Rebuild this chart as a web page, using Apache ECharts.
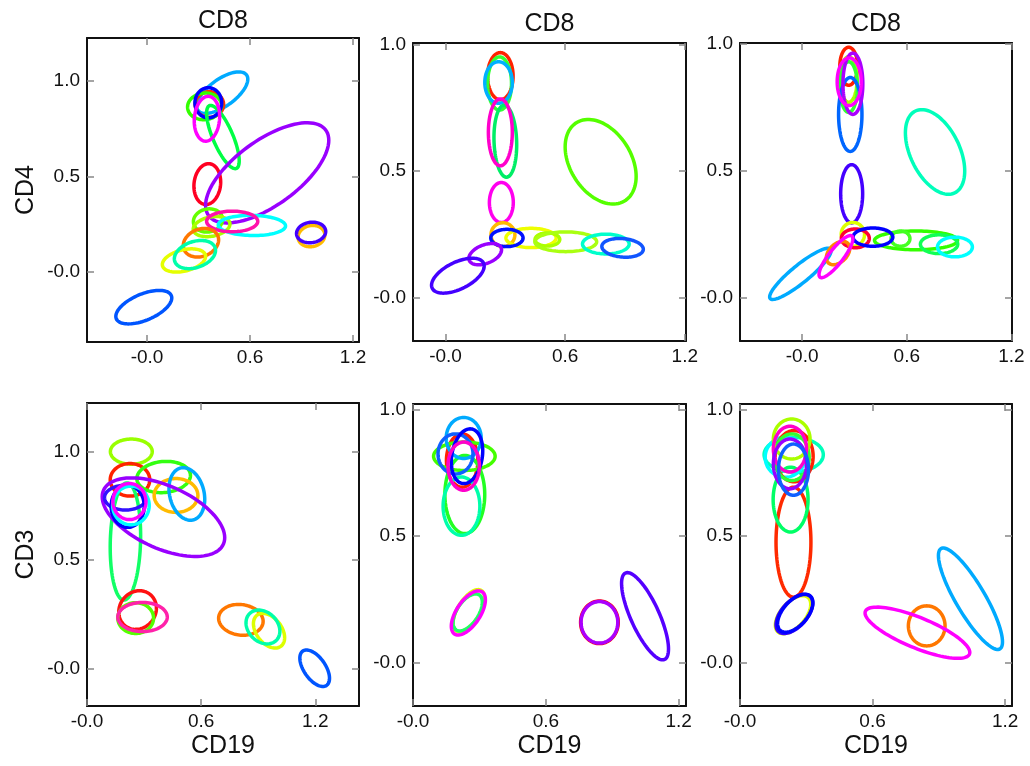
<!DOCTYPE html>
<html><head><meta charset="utf-8">
<script src="https://cdn.jsdelivr.net/npm/echarts@6/dist/echarts.min.js"></script>
<style>html,body{margin:0;padding:0;background:#fff}#c{width:1030px;height:766px}</style>
</head><body><div id="c"></div>
<script>
// ---- tick values / labels ----
const xTickValues = [0, 0.6, 1.2];
const yTickValues = [0, 0.5, 1.0];
const tickLabels = { '0': '-0.0', '0.5': '0.5', '0.6': '0.6', '1': '1.0', '1.2': '1.2' };

// ---- axis extents per panel [xmin, xmax, ymin, ymax] ----
const p1Range = [-0.35, 1.235, -0.37, 1.226];
const p2Range = [-0.163, 1.206, -0.171, 1.006];
const p3Range = [-0.356, 1.203, -0.172, 1.004];
const p4Range = [0, 1.43, -0.172, 1.224];
const p5Range = [0, 1.233, -0.17, 1.021];
const p6Range = [0, 1.231, -0.17, 1.021];

// ---- ellipses: [centerX, centerY, halfWidthX, halfHeightY, correlation] ----
const p1Ellipses = [
  [0.438, 0.939, 0.149, 0.109, 0.65],
  [0.363, 0.877, 0.083, 0.067, 0.0],
  [0.335, 0.867, 0.099, 0.070, 0.05],
  [0.357, 0.886, 0.078, 0.079, 0.0],
  [0.442, 0.706, 0.095, 0.166, -0.75],
  [0.349, 0.802, 0.074, 0.118, 0.1],
  [0.351, 0.459, 0.078, 0.107, 0.1],
  [0.700, 0.518, 0.359, 0.263, 0.65],
  [0.355, 0.268, 0.085, 0.061, 0.1],
  [0.376, 0.236, 0.107, 0.053, 0.25],
  [0.611, 0.242, 0.196, 0.053, -0.05],
  [0.496, 0.263, 0.149, 0.054, 0.0],
  [0.314, 0.151, 0.103, 0.075, 0.2],
  [0.215, 0.058, 0.126, 0.061, 0.35],
  [0.279, 0.089, 0.120, 0.074, 0.3],
  [-0.019, -0.187, 0.163, 0.088, 0.55],
  [0.958, 0.186, 0.078, 0.056, 0.1],
  [0.956, 0.205, 0.085, 0.054, 0.1]
];
const p1Colors = ['#00aaff','#ff3300','#33ff00','#0000ff','#00ff44','#ff00ff','#ff0022','#9900ff',
  '#66ff00','#aaff00','#00ffff','#ff11aa','#ff7700','#e5ff00','#00ffaa','#0055ff','#ffbb00','#4400ff'];

const p2Ellipses = [
  [0.275, 0.875, 0.064, 0.093, 0.0],
  [0.271, 0.846, 0.060, 0.105, 0.0],
  [0.266, 0.850, 0.069, 0.082, 0.0],
  [0.300, 0.618, 0.057, 0.142, -0.1],
  [0.275, 0.653, 0.060, 0.132, 0.0],
  [0.280, 0.376, 0.060, 0.079, 0.0],
  [0.288, 0.249, 0.060, 0.047, 0.0],
  [0.429, 0.236, 0.126, 0.038, 0.0],
  [0.308, 0.236, 0.081, 0.034, 0.0],
  [0.511, 0.230, 0.062, 0.026, 0.0],
  [0.603, 0.221, 0.155, 0.039, 0.0],
  [0.804, 0.212, 0.117, 0.039, 0.0],
  [0.888, 0.197, 0.104, 0.037, -0.15],
  [0.199, 0.172, 0.082, 0.042, 0.4],
  [0.062, 0.087, 0.132, 0.069, 0.55],
  [0.778, 0.537, 0.178, 0.167, -0.35]
];
const p2Colors = ['#ff2200','#33ff33','#00b0ff','#00ee66','#ff00cc','#ff00ee','#ffbb00','#eeff00',
  '#0011ff','#aaff00','#aaff11','#00ffcc','#1155ff','#9900ff','#4400ff','#55ff00'];

const p3Ellipses = [
  [0.267, 0.912, 0.051, 0.075, 0.0],
  [0.267, 0.860, 0.048, 0.090, 0.0],
  [0.267, 0.830, 0.050, 0.100, 0.0],
  [0.276, 0.722, 0.067, 0.146, 0.0],
  [0.291, 0.843, 0.057, 0.121, 0.0],
  [0.270, 0.851, 0.069, 0.094, 0.0],
  [0.284, 0.409, 0.063, 0.115, 0.0],
  [0.762, 0.574, 0.170, 0.167, -0.45],
  [0.291, 0.249, 0.067, 0.047, 0.0],
  [0.305, 0.233, 0.080, 0.037, 0.0],
  [0.653, 0.225, 0.238, 0.037, 0.0],
  [0.564, 0.232, 0.054, 0.030, 0.0],
  [0.406, 0.238, 0.114, 0.036, 0.0],
  [0.785, 0.210, 0.107, 0.037, 0.0],
  [0.876, 0.199, 0.100, 0.039, 0.0],
  [-0.010, 0.093, 0.176, 0.101, 0.9],
  [0.206, 0.175, 0.067, 0.046, 0.4],
  [0.194, 0.161, 0.097, 0.083, 0.85]
];
const p3Colors = ['#ff2200','#aaff00','#33ff33','#0066ff','#aa00ff','#ff00ff','#4400ff','#00ffbb',
  '#ddff00','#ff0033','#33ff00','#44ff22','#0000ff','#11ff55','#00ffff','#00aaff','#ff8800','#ff00ff'];

const p4Ellipses = [
  [0.233, 1.000, 0.110, 0.058, 0.0],
  [0.226, 0.870, 0.104, 0.075, 0.0],
  [0.403, 0.883, 0.141, 0.072, 0.1],
  [0.468, 0.798, 0.115, 0.078, 0.0],
  [0.525, 0.805, 0.094, 0.121, -0.2],
  [0.202, 0.586, 0.080, 0.270, 0.1],
  [0.402, 0.698, 0.322, 0.181, -0.52],
  [0.202, 0.788, 0.110, 0.057, 0.0],
  [0.214, 0.748, 0.087, 0.097, 0.0],
  [0.231, 0.752, 0.096, 0.089, 0.0],
  [0.223, 0.770, 0.087, 0.083, 0.0],
  [0.266, 0.270, 0.099, 0.089, 0.1],
  [0.256, 0.233, 0.094, 0.071, 0.0],
  [0.292, 0.238, 0.130, 0.067, 0.0],
  [0.809, 0.225, 0.117, 0.071, -0.1],
  [0.957, 0.175, 0.082, 0.080, -0.4],
  [0.925, 0.192, 0.089, 0.078, -0.25],
  [1.197, 0.002, 0.078, 0.084, -0.55]
];
const p4Colors = ['#99ff00','#ff2200','#33ff11','#ffbb00','#00aaff','#11ff66','#9900ff','#3311ff',
  '#0000ff','#00ffff','#ff00ff','#ff1111','#55ff00','#ff22aa','#ff7700','#ddff00','#00ffaa','#0055ff'];

const p5Ellipses = [
  [0.222, 0.798, 0.071, 0.105, 0.0],
  [0.232, 0.815, 0.139, 0.056, 0.0],
  [0.234, 0.664, 0.090, 0.154, 0.0],
  [0.219, 0.618, 0.083, 0.115, 0.0],
  [0.229, 0.887, 0.079, 0.081, 0.0],
  [0.192, 0.824, 0.079, 0.079, 0.0],
  [0.244, 0.815, 0.071, 0.108, 0.2],
  [0.229, 0.776, 0.071, 0.095, 0.0],
  [0.252, 0.206, 0.071, 0.083, 0.6],
  [0.247, 0.199, 0.066, 0.073, 0.55],
  [0.250, 0.197, 0.077, 0.087, 0.6],
  [0.842, 0.160, 0.085, 0.084, 0.0],
  [0.842, 0.160, 0.083, 0.082, 0.0],
  [1.048, 0.184, 0.106, 0.172, -0.75]
];
const p5Colors = ['#ff2200','#44ff00','#22ff22','#00ffaa','#00aaff','#1060ff','#0000ff','#ff00cc',
  '#ddff00','#22ff66','#ff00ff','#ff0000','#aa00ff','#5500ff'];

const p6Ellipses = [
  [0.242, 0.476, 0.079, 0.217, 0.0],
  [0.229, 0.644, 0.079, 0.128, 0.0],
  [0.243, 0.821, 0.134, 0.068, 0.0],
  [0.204, 0.811, 0.090, 0.079, 0.0],
  [0.245, 0.815, 0.086, 0.101, 0.0],
  [0.234, 0.811, 0.079, 0.092, 0.0],
  [0.234, 0.883, 0.083, 0.079, 0.0],
  [0.226, 0.843, 0.075, 0.090, 0.0],
  [0.226, 0.785, 0.075, 0.098, 0.0],
  [0.242, 0.762, 0.068, 0.101, 0.0],
  [0.240, 0.190, 0.080, 0.075, 0.55],
  [0.246, 0.193, 0.083, 0.077, 0.55],
  [0.250, 0.196, 0.080, 0.075, 0.55],
  [0.845, 0.146, 0.083, 0.079, 0.0],
  [0.803, 0.119, 0.237, 0.101, -0.77],
  [1.043, 0.253, 0.145, 0.200, -0.85]
];
const p6Colors = ['#ff2a00','#00ff66','#00ffbb','#00ffff','#ff2200','#33ff33','#aaff00','#ff00cc',
  '#9900ff','#1060ff','#ddff00','#3300ff','#0000ff','#ff7700','#ff00ff','#00aaff'];

// ---- layout (pixels) ----
const panels = [
  { rect: [87, 38, 272, 304],  range: p1Range, data: p1Ellipses, colors: p1Colors, top: 'CD8', topGap: 4, left: 'CD4' },
  { rect: [413, 43, 273, 298], range: p2Range, data: p2Ellipses, colors: p2Colors, top: 'CD8', topGap: 6 },
  { rect: [740, 43, 272, 298], range: p3Range, data: p3Ellipses, colors: p3Colors, top: 'CD8', topGap: 6 },
  { rect: [87, 403, 272, 303], range: p4Range, data: p4Ellipses, colors: p4Colors, bottom: 'CD19', left: 'CD3' },
  { rect: [413, 404, 273, 302], range: p5Range, data: p5Ellipses, colors: p5Colors, bottom: 'CD19' },
  { rect: [740, 404, 272, 302], range: p6Range, data: p6Ellipses, colors: p6Colors, bottom: 'CD19' }
];

const FONT = '"Liberation Sans", Arial, Helvetica, sans-serif';
const fmt = v => { const k = String(Math.round(v * 10) / 10); return tickLabels[k] !== undefined ? tickLabels[k] : v.toFixed(1); };
const axisLineStyle = { show: true, onZero: false, lineStyle: { color: '#111', width: 2 } };
const tickStyle = vals => ({ show: true, inside: true, length: 7, customValues: vals, lineStyle: { color: '#888', width: 1.5 } });
const nameStyle = { fontSize: 25, color: '#111', fontFamily: FONT };

const grid = [], xAxis = [], yAxis = [], series = [];
panels.forEach((p, i) => {
  grid.push({ left: p.rect[0], top: p.rect[1], width: p.rect[2], height: p.rect[3], containLabel: false });
  const xc = { type: 'value', gridIndex: i, min: p.range[0], max: p.range[1], splitLine: { show: false }, axisLine: axisLineStyle, axisTick: tickStyle(xTickValues) };
  const yc = { type: 'value', gridIndex: i, min: p.range[2], max: p.range[3], splitLine: { show: false }, axisLine: axisLineStyle, axisTick: tickStyle(yTickValues) };
  xAxis.push(Object.assign({}, xc, {
    position: 'bottom',
    axisLabel: { show: true, customValues: xTickValues, formatter: fmt, margin: 6, fontSize: 19, color: '#111', fontFamily: FONT },
    name: p.bottom || '', nameLocation: 'middle', nameGap: 28, nameTextStyle: nameStyle
  }));
  xAxis.push(Object.assign({}, xc, {
    position: 'top', axisLabel: { show: false },
    name: p.top || '', nameLocation: 'middle', nameGap: p.topGap || 5, nameTextStyle: nameStyle
  }));
  yAxis.push(Object.assign({}, yc, {
    position: 'left',
    axisLabel: { show: true, customValues: yTickValues, formatter: fmt, margin: 7, fontSize: 19, color: '#111', fontFamily: FONT },
    name: p.left || '', nameLocation: 'middle', nameGap: 48, nameTextStyle: nameStyle
  }));
  yAxis.push(Object.assign({}, yc, { position: 'right', axisLabel: { show: false } }));

  const colors = p.colors;
  series.push({
    type: 'custom',
    xAxisIndex: 2 * i,
    yAxisIndex: 2 * i,
    clip: true,
    silent: true,
    encode: { x: 0, y: 1 },
    data: p.data,
    renderItem: function (params, api) {
      const cx = api.value(0), cy = api.value(1), sx = api.value(2), sy = api.value(3), rho = api.value(4);
      const d = Math.acos(Math.max(-1, Math.min(1, rho)));
      const pts = [];
      const N = 96;
      for (let k = 0; k < N; k++) {
        const t = k / N * Math.PI * 2;
        pts.push(api.coord([cx + sx * Math.cos(t), cy + sy * Math.cos(t - d)]));
      }
      return { type: 'polygon', shape: { points: pts }, style: { fill: 'none', stroke: colors[params.dataIndex], lineWidth: 3.5 } };
    }
  });
});

const chart = echarts.init(document.getElementById('c'), null, { renderer: 'canvas' });
chart.setOption({ animation: false, backgroundColor: '#fff', grid, xAxis, yAxis, series });
</script>
</body></html>
